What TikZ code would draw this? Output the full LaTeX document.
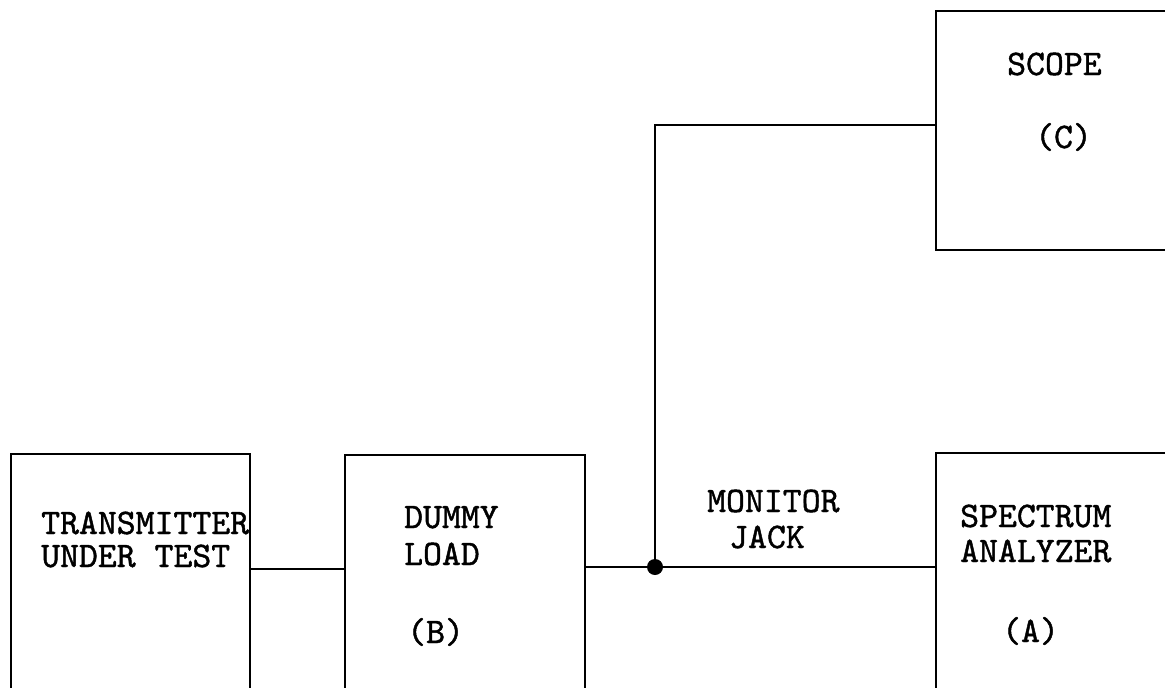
\documentclass[tikz,border=0pt]{standalone}
\usepackage{fontspec}
\newfontfamily\tw[Extension=.otf,FakeBold=1.2]{lmmono10-regular}
\begin{document}
\begin{tikzpicture}[x=1pt,y=-1pt,
  box/.style={draw,line width=2.4pt,rectangle,inner sep=0pt,anchor=north west},
  wire/.style={line width=2.4pt},
  lbl/.style={inner sep=0pt,anchor=base west,font=\tw\fontsize{36}{37}\selectfont},
  junction/.style={circle,fill,inner sep=0pt,minimum size=16pt}]
\useasboundingbox (0,0) rectangle (1165,688);
\clip (0,0) rectangle (1165,688);
% boxes
\node[box,minimum width=239pt,minimum height=300pt] (tx) at (10,453) {};
\node[box,minimum width=240pt,minimum height=300pt] (dl) at (344,454) {};
\node[box,minimum width=300pt,minimum height=300pt] (sa) at (935,452) {};
\node[box,minimum width=300pt,minimum height=239pt] (sc) at (935,10) {};
% labels
\node[lbl] (t1) at (41,534) {TRANSMITTER};
\node[lbl] (t2) at (41,567) {UNDER TEST};
\node[lbl] (d1) at (404,528) {DUMMY};
\node[lbl] (d2) at (404,565) {LOAD};
\node[lbl] (d3) at (407,643) {(B)};
\node[lbl] (m1) at (707,512) {MONITOR};
\node[lbl] (m2) at (729,548) {JACK};
\node[lbl] (s1) at (960,527) {SPECTRUM};
\node[lbl] (s2) at (960,562) {ANALYZER};
\node[lbl] (s3) at (1002,642) {(A)};
\node[lbl] (c1) at (1007,75) {SCOPE};
\node[lbl] (c2) at (1035,148) {(C)};
% connectors
\node[junction] (jack) at (655,567) {};
\coordinate (corner) at (655,125);
\draw[wire] (tx.east |- 0,569) -- (dl.west |- 0,569);
\draw[wire] (dl.east |- jack) -- (jack) -- (sa.west |- jack);
\draw[wire] (jack) -- (corner) -- (sc.west |- corner);
\end{tikzpicture}
\end{document}
